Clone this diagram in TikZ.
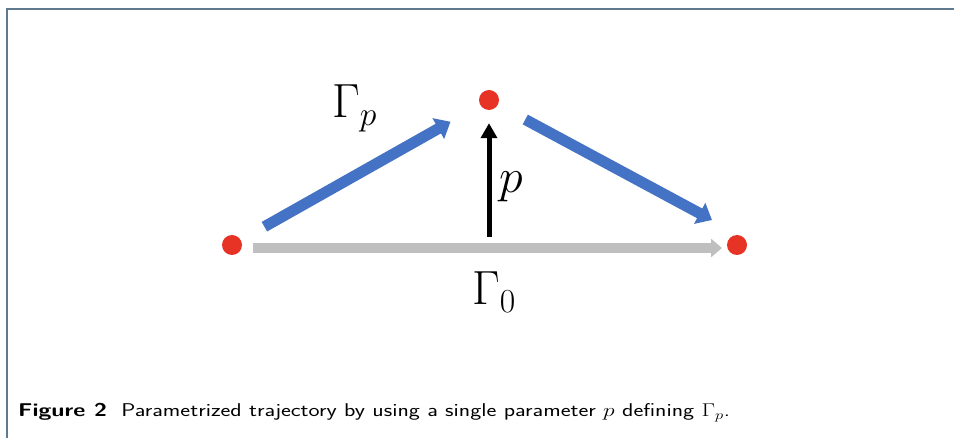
\RequirePackage{fix-cm}
\documentclass[tikz,border=0pt]{standalone}
\usetikzlibrary{arrows.meta,calc}
\definecolor{dotred}{HTML}{E63326}
\definecolor{arrblue}{HTML}{4472C4}
\definecolor{arrgray}{HTML}{BFBFBF}
\definecolor{framecol}{HTML}{5F7A8E}
\tikzset{
  dotnode/.style={circle,fill=dotred,draw=none,minimum size=20pt,inner sep=0pt},
  bluearrow/.style={draw=arrblue,line width=11pt,-{Triangle[length=14pt,width=23pt]},fill=arrblue},
  grayarrow/.style={draw=arrgray,line width=9.5pt,-{Triangle[length=11pt,width=18pt]},fill=arrgray},
  blackarrow/.style={draw=black,line width=5pt,-{Triangle[length=15pt,width=16pt]}},
  biglabel/.style={inner sep=0pt,font=\fontsize{48}{58}\selectfont},
  captiontext/.style={inner sep=0pt,font=\fontsize{18.5}{22}\selectfont\sffamily}
}
\begin{document}
\begin{tikzpicture}[x=1pt,y=-1pt]
  \useasboundingbox (0,0) rectangle (954,438);
  \draw[framecol,line width=2pt] (7,438) -- (7,9) -- (954,9);
  \node[dotnode] (A) at (232,245) {};
  \node[dotnode] (B) at (489,100) {};
  \node[dotnode] (C) at (737,245) {};
  \coordinate (c2) at (712,220);
  \coordinate (p0) at (489,237);
  \draw[grayarrow] ($(A)+(21,3)$) -- ($(C)+(-15,3)$);
  \draw[bluearrow,shorten <=27pt,shorten >=34pt] (A) -- (B);
  \draw[bluearrow,shorten <=31pt] (B) -- (c2);
  \draw[blackarrow,shorten >=13pt] (p0) -- (B);
  \node[biglabel,anchor=base west] (gp) at (332,118) {$\Gamma_p$};
  \node[biglabel,anchor=base west] (pl) at (499,193) {$p$};
  \node[biglabel,anchor=base west] (g0) at (472,305) {$\Gamma_0$};
  \node[captiontext,anchor=base west] (cap) at (18,417) {\scalebox{1.27}[1]{\textbf{Figure 2}\hspace{0.3em} Parametrized trajectory by using a single parameter $p$ defining $\Gamma_p$.}};
\end{tikzpicture}
\end{document}
